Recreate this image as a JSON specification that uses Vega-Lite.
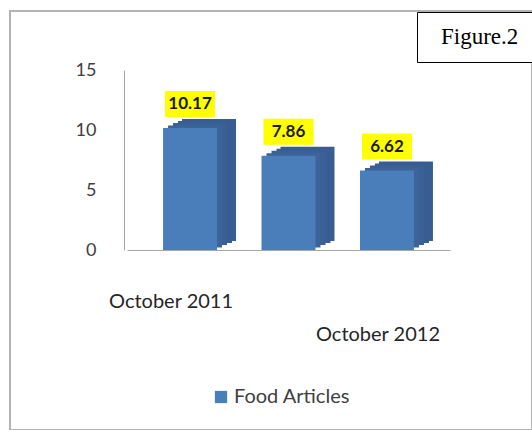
{
  "$schema": "https://vega.github.io/schema/vega-lite/v6.json",
  "autosize": {"type": "none"},
  "padding": {"left": 10, "top": 11, "right": 0, "bottom": 0},
  "width": 522,
  "height": 419,
  "background": "white",
  "view": {"stroke": "#b3b3b3", "strokeWidth": 2},
  "config": {"font": "Lato", "axis": {"labelFont": "Lato", "grid": false}, "legend": {"labelFont": "Lato"}},
  "data": {
    "values": [
      {"month": "October 2011", "value": 10.17, "series": "Food Articles", "fig": "Figure.2"},
      {"month": "April 2012", "value": 7.86, "series": "Food Articles", "fig": "Figure.2"},
      {"month": "October 2012", "value": 6.62, "series": "Food Articles", "fig": "Figure.2"}
    ]
  },
  "encoding": {
    "x": {
      "field": "month",
      "type": "nominal",
      "sort": null,
      "scale": {"range": [117, 440], "paddingInner": 0.452, "paddingOuter": 0.366},
      "axis": {
        "title": null,
        "orient": "bottom",
        "offset": -180,
        "domain": true,
        "domainColor": "#a6a6a6",
        "ticks": false,
        "labelPadding": 41,
        "labelAngle": 0,
        "labelFontSize": 20,
        "labelColor": "#262626",
        "labelOffset": {"condition": {"test": "datum.value == 'October 2012'", "value": -9}, "value": -19},
        "labelLineHeight": 33,
        "labelBaseline": "top",
        "labelOverlap": false,
        "labelBound": false,
        "labelExpr": "datum.value == 'October 2012' ? [' ', ' ', datum.value] : (datum.value == 'October 2011' ? datum.value : '')"
      }
    },
    "y": {
      "field": "value",
      "type": "quantitative",
      "scale": {"domain": [0, 15], "range": [239, 59], "nice": false, "zero": true},
      "axis": {
        "title": null,
        "values": [0, 5, 10, 15],
        "offset": -114,
        "domainColor": "#a6a6a6",
        "ticks": false,
        "labelPadding": 28,
        "labelFontSize": 18,
        "labelColor": "#404040"
      }
    }
  },
  "layer": [
    {
      "mark": {"type": "bar", "color": "#385d92", "xOffset": 19, "x2Offset": 19, "yOffset": -9, "y2Offset": -9},
      "encoding": {"y2": {"datum": 0}}
    },
    {
      "mark": {"type": "bar", "color": "#385d92", "xOffset": 15, "x2Offset": 15, "yOffset": -7, "y2Offset": -7},
      "encoding": {"y2": {"datum": 0}}
    },
    {
      "mark": {"type": "bar", "color": "#3a6096", "xOffset": 10, "x2Offset": 10, "yOffset": -5, "y2Offset": -5},
      "encoding": {"y2": {"datum": 0}}
    },
    {
      "mark": {"type": "bar", "color": "#3c639a", "xOffset": 5, "x2Offset": 5, "yOffset": -2.5, "y2Offset": -2.5},
      "encoding": {"y2": {"datum": 0}}
    },
    {
      "mark": {"type": "bar"},
      "encoding": {
        "y2": {"datum": 0},
        "color": {
          "field": "series",
          "type": "nominal",
          "scale": {"range": ["#4a7ebb"]},
          "legend": {
            "orient": "none",
            "legendX": 201,
            "legendY": 376,
            "title": null,
            "symbolType": "square",
            "symbolSize": 150,
            "labelFontSize": 20,
            "labelColor": "#404040",
            "padding": 0,
            "labelOffset": 3
          }
        }
      }
    },
    {
      "mark": {"type": "point", "filled": true, "opacity": 1, "yOffset": -24},
      "encoding": {
        "color": {"value": "#ffff00"},
        "size": {"value": 2500},
        "shape": {
          "field": "fig",
          "type": "nominal",
          "scale": {"range": ["M-1,-0.52H1V0.52H-1Z"]},
          "legend": {
            "orient": "none",
            "legendX": 407,
            "legendY": 1,
            "title": null,
            "strokeColor": "black",
            "fillColor": "white",
            "padding": 13,
            "symbolOpacity": 0,
            "symbolStrokeWidth": 0,
            "labelOffset": -12,
            "labelFont": "Liberation Serif",
            "labelFontSize": 23,
            "labelColor": "black"
          }
        }
      }
    },
    {
      "mark": {"type": "text", "fontWeight": "bold", "fontSize": 17, "yOffset": -24, "baseline": "middle", "color": "#1a1a1a"},
      "encoding": {"text": {"field": "value", "type": "quantitative", "format": ".2f"}}
    }
  ]
}
